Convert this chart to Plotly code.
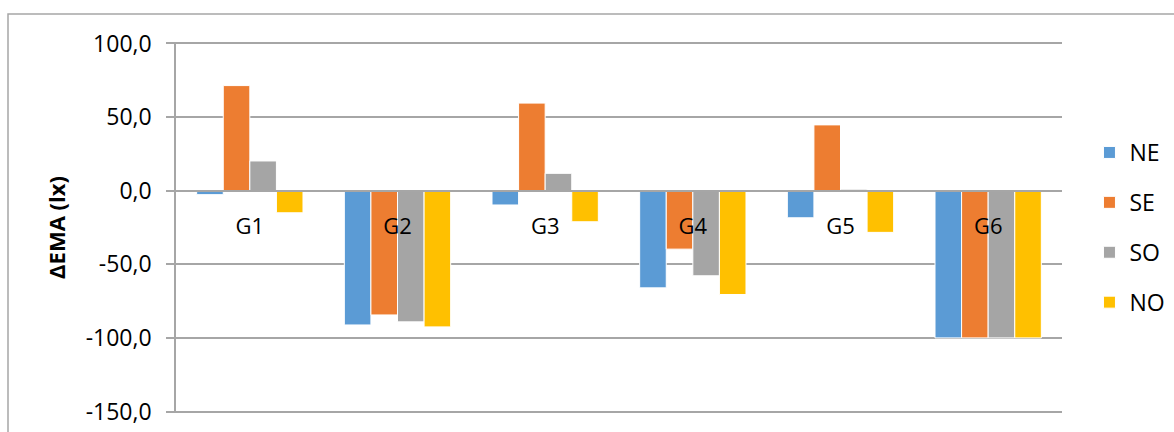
import plotly.graph_objects as go

groups = ["G1", "G2", "G3", "G4", "G5", "G6"]
series_names = ["NE", "SE", "SO", "NO"]
ne = [-2.7, -91.2, -9.7, -66.0, -18.4, -100.0]
se = [71.4, -84.4, 59.5, -39.7, 44.7, -100.0]
so = [20.2, -89.1, 11.8, -57.8, 1.0, -100.0]
no = [-15.0, -92.5, -21.1, -70.5, -28.3, -100.0]
y_ticks = [100, 50, 0, -50, -100, -150]
y_tick_labels = ["100,0", "50,0", "0,0", "-50,0", "-100,0", "-150,0"]

colors = ["#5B9BD5", "#ED7D31", "#A5A5A5", "#FFC000"]
FONT = "Open Sans"

fig = go.Figure()
for name, vals, col in zip(series_names, [ne, se, so, no], colors):
    fig.add_trace(go.Bar(
        x=groups, y=vals, name=name, legendgroup=name,
        marker=dict(color=col, line=dict(color="white", width=1)),
    ))

fig.update_layout(
    width=1174, height=432,
    margin=dict(l=176, r=112, t=42, b=19, autoexpand=False),
    paper_bgcolor="white", plot_bgcolor="white",
    barmode="group", bargap=0.28, bargroupgap=0,
    font=dict(family=FONT, size=23, color="black"),
    legend=dict(
        x=1.031, xanchor="left", y=0.5, yanchor="middle",
        font=dict(family=FONT, size=23), tracegroupgap=17,
        itemwidth=30,
    ),
    xaxis=dict(
        anchor="free", position=151 / 252, automargin=False,
        showline=True, linecolor="#A6A6A6", linewidth=1.5,
        ticks="", showgrid=False, ticklabelstandoff=16,
        tickfont=dict(family=FONT, size=22),
    ),
    yaxis=dict(
        range=[-151, 101], tickvals=y_ticks, ticktext=y_tick_labels,
        automargin=False,
        showgrid=True, gridcolor="#A6A6A6", gridwidth=1.5,
        showline=True, linecolor="#A6A6A6", linewidth=1.5,
        ticks="outside", ticklen=8, tickcolor="#A6A6A6", tickwidth=1.5,
        ticklabelstandoff=10, zeroline=False,
        tickfont=dict(family=FONT, size=23),
        title=dict(text="<b>ΔEMA (lx)</b>", font=dict(family=FONT, size=22), standoff=14),
    ),
    shapes=[dict(
        type="rect", xref="paper", yref="paper",
        x0=(8 - 176) / 886, x1=1.2, y0=-0.2, y1=(413 - 14) / 371,
        line=dict(color="#A6A6A6", width=1.5), layer="below",
    )],
)

fig.write_html("out.html")
